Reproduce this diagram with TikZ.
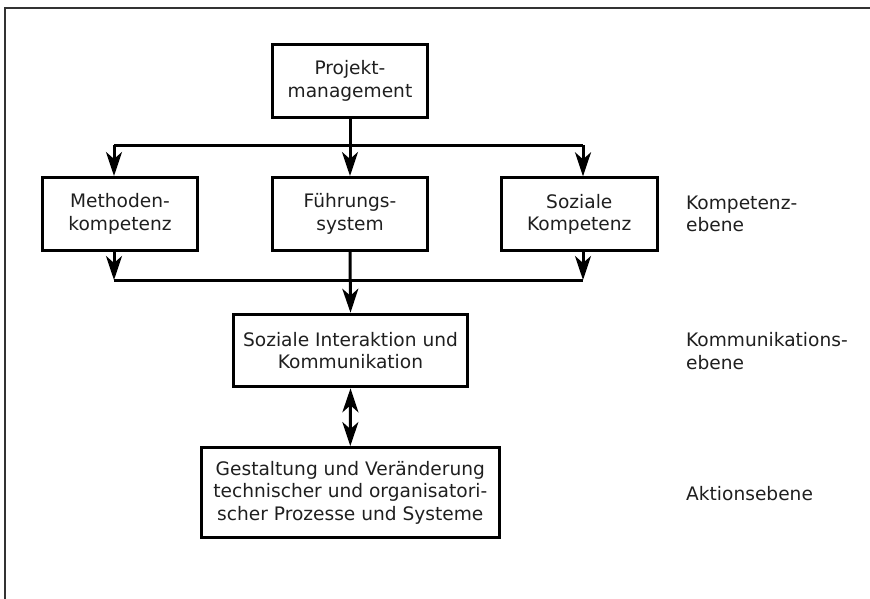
\documentclass[tikz,border=0pt]{standalone}
\usepackage{fontspec}
\setmainfont{DejaVu Sans}
\usetikzlibrary{arrows.meta}
\tikzset{
  box/.style={draw=black, line width=3pt, align=center, inner sep=0pt,
    font=\fontsize{18.6}{22.4}\selectfont, text=black!88},
  lvl/.style={anchor=west, align=left, inner sep=0pt,
    font=\fontsize{18.6}{22.4}\selectfont, text=black!88},
  conn/.style={line width=3pt, black},
  arr/.style={conn, -{Stealth[length=24pt, width=16pt, inset=7pt]}},
  darr/.style={conn, {Stealth[length=24pt, width=16pt, inset=7pt]}-{Stealth[length=24pt, width=16pt, inset=7pt]}}
}
\begin{document}
\begin{tikzpicture}[x=1pt, y=-1pt]
\useasboundingbox (0,0) rectangle (870,598);
\begin{scope}
\clip (0,0) rectangle (870,598);
\draw[line width=2pt, black!80] (5,8) rectangle (900,620);
\end{scope}

\node[box, minimum width=155.6pt, minimum height=73.3pt] (pm) at (350,81) {Projekt-\\management};
\node[box, minimum width=155.6pt, minimum height=73pt] (mk) at (120,214) {Methoden-\\kompetenz};
\node[box, minimum width=155.6pt, minimum height=73pt] (fs) at (350,214) {Führungs-\\system};
\node[box, minimum width=155.6pt, minimum height=73pt] (sk) at (579.3,214.3) {Soziale\\Kompetenz};
\node[box, minimum width=234.6pt, minimum height=72.6pt] (si) at (350.5,350.5) {Soziale Interaktion und\\Kommunikation};
\node[box, minimum width=297.7pt, minimum height=90.3pt] (gv) at (350.3,492.7) {Gestaltung und Veränderung\\technischer und organisatori-\\scher Prozesse und Systeme};

\node[lvl] (l1) at (686,214) {Kompetenz-\\ebene};
\node[lvl] (l2) at (686,351) {Kommunikations-\\ebene};
\node[lvl] (l3) at (686,494) {Aktionsebene};

% top bus
\coordinate (tb) at (350,145);
\coordinate (tl) at (114,145);
\coordinate (tr) at (583,145);
\draw[conn] (pm.south) -- (tb);
\draw[conn] (tl) -- (tr);
\draw[arr] (tl) -- (tl |- mk.north);
\draw[arr] (tb) -- (fs.north);
\draw[arr] (tr) -- (tr |- sk.north);

% bottom bus
\coordinate (bl) at (114,280);
\coordinate (br) at (583,280);
\draw[arr] (bl |- mk.south) -- (bl);
\draw[arr] (br |- sk.south) -- (br);
\draw[conn] (bl) -- (br);
\draw[arr] (fs.south) -- (si.north);

\draw[darr] (si.south) -- (gv.north);
\end{tikzpicture}
\end{document}
